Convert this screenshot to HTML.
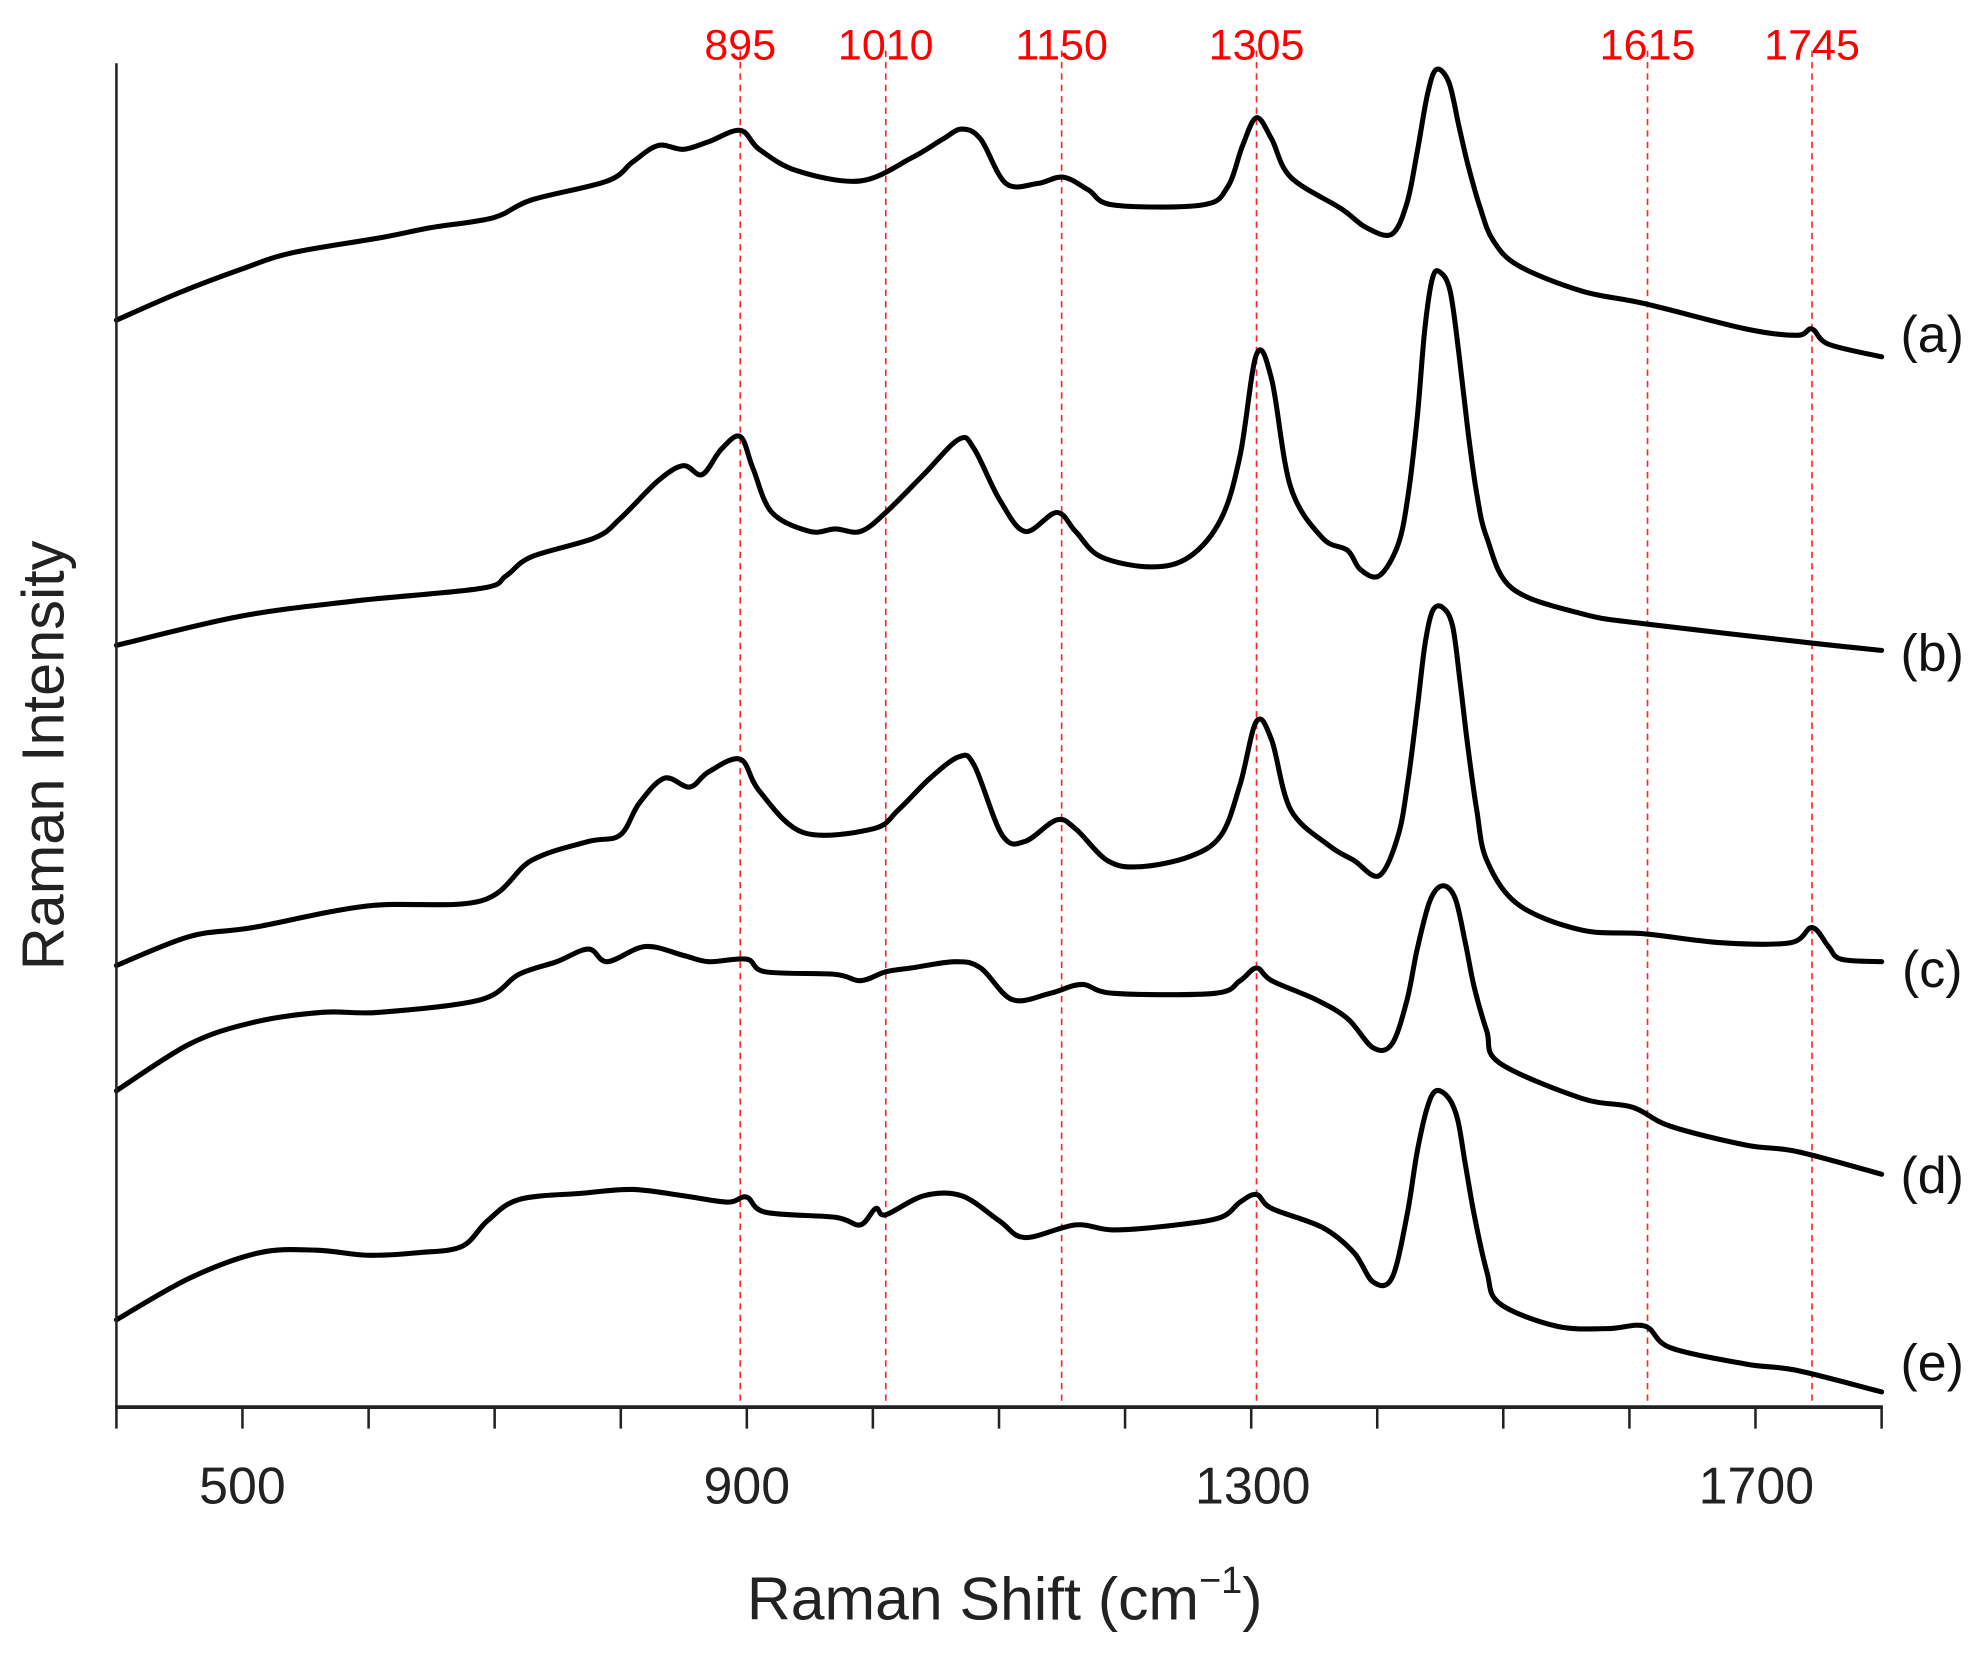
<!DOCTYPE html>
<html><head><meta charset="utf-8"><style>html,body{margin:0;padding:0;background:#fff}svg{display:block}</style></head>
<body>
<svg id="s" width="1974" height="1656" viewBox="0 0 1560 1308.7" preserveAspectRatio="none" xmlns="http://www.w3.org/2000/svg" font-family="Liberation Sans, sans-serif">
<g stroke="#f00" stroke-width="1.3" stroke-dasharray="5,4" opacity="0.85">
<line x1="585" y1="40" x2="585" y2="1112"/><line x1="700" y1="40" x2="700" y2="1112"/><line x1="839" y1="40" x2="839" y2="1112"/><line x1="993" y1="40" x2="993" y2="1112"/><line x1="1302" y1="40" x2="1302" y2="1112"/><line x1="1432" y1="40" x2="1432" y2="1112"/>
</g>
<g fill="#f00" font-size="34" text-anchor="middle">
<text x="585" y="47">895</text><text x="700" y="47">1010</text><text x="839" y="47">1150</text><text x="993" y="47">1305</text><text x="1302" y="47">1615</text><text x="1432" y="47">1745</text>
</g>
<g id="curves" fill="none" stroke="#000" stroke-width="4" stroke-linejoin="round" stroke-linecap="round">
<polyline points="92,253 140,232 190,213 230,200 300,188 340,180 390,172 420,158 480,143 500,128 520,115 540,118 560,112 585,103 600,118 630,135 680,143 720,125 745,110 760,102 775,110 795,145 820,145 840,140 860,150 880,162 950,162 970,148 982,115 993,93 1005,110 1020,140 1060,165 1080,180 1100,185 1112,160 1120,120 1128,75 1135,55 1145,65 1153,100 1160,130 1170,165 1180,190 1200,210 1250,230 1300,240 1380,260 1420,265 1432,260 1445,272 1487,282"/>
<polyline points="92,510 190,487 280,475 380,465 400,455 420,440 470,425 490,410 520,380 540,368 555,375 570,355 585,345 595,370 610,405 640,420 660,418 680,420 700,405 730,375 758,347 770,355 790,395 810,420 835,405 850,420 870,440 910,448 940,440 965,410 980,360 993,280 1005,300 1020,385 1045,425 1065,435 1075,450 1090,455 1105,430 1113,390 1120,330 1126,260 1132,220 1138,215 1146,230 1153,280 1160,340 1167,390 1175,425 1195,465 1250,485 1300,493 1430,508 1487,514"/>
<polyline points="92,763 150,740 200,733 290,716 380,712 420,680 465,665 490,660 505,635 525,615 545,622 560,610 585,600 600,625 635,658 690,655 710,640 735,615 758,598 770,605 792,660 810,665 835,648 850,655 875,680 900,685 940,677 965,660 980,620 993,570 1005,585 1020,640 1050,668 1070,680 1090,692 1105,660 1113,615 1120,560 1126,510 1132,483 1140,480 1148,495 1154,540 1160,590 1167,640 1175,680 1200,715 1250,735 1300,738 1360,745 1415,745 1432,733 1445,748 1455,758 1487,760"/>
<polyline points="92,862 150,825 200,808 255,800 300,800 380,790 410,770 440,760 465,750 480,760 510,748 540,755 560,760 590,758 605,768 660,770 680,775 700,768 720,765 755,760 775,765 800,790 830,785 855,778 880,785 960,785 980,775 993,765 1005,775 1040,790 1065,805 1085,828 1100,825 1112,790 1120,750 1130,712 1140,700 1150,710 1158,745 1165,780 1175,815 1185,840 1250,868 1290,875 1320,890 1380,905 1420,910 1487,928"/>
<polyline points="92,1043 150,1010 205,990 250,988 290,992 330,990 365,985 385,965 410,948 460,943 500,940 540,945 575,950 590,946 605,958 660,962 680,968 692,955 700,960 730,945 760,945 790,965 810,978 850,968 880,972 930,968 965,962 980,950 993,944 1005,955 1045,970 1070,990 1085,1013 1100,1010 1112,960 1120,910 1128,875 1135,862 1145,868 1152,885 1158,920 1165,960 1175,1005 1185,1030 1230,1048 1270,1050 1300,1048 1320,1065 1380,1078 1420,1083 1487,1100"/>
</g>
<g stroke="#222" stroke-width="2">
<line x1="92" y1="50" x2="92" y2="1112"/>
<line x1="91" y1="1112" x2="1488" y2="1112" stroke-width="3"/>
<line x1="92" y1="1112" x2="92" y2="1129"/><line x1="191.6" y1="1112" x2="191.6" y2="1129"/><line x1="291.3" y1="1112" x2="291.3" y2="1129"/><line x1="390.9" y1="1112" x2="390.9" y2="1129"/><line x1="490.6" y1="1112" x2="490.6" y2="1129"/><line x1="590.2" y1="1112" x2="590.2" y2="1129"/><line x1="689.8" y1="1112" x2="689.8" y2="1129"/><line x1="789.5" y1="1112" x2="789.5" y2="1129"/><line x1="889.1" y1="1112" x2="889.1" y2="1129"/><line x1="988.8" y1="1112" x2="988.8" y2="1129"/><line x1="1088.4" y1="1112" x2="1088.4" y2="1129"/><line x1="1188" y1="1112" x2="1188" y2="1129"/><line x1="1287.7" y1="1112" x2="1287.7" y2="1129"/><line x1="1387.3" y1="1112" x2="1387.3" y2="1129"/><line x1="1487" y1="1112" x2="1487" y2="1129"/>
</g>
<g fill="#222" font-size="41" text-anchor="middle">
<text x="191.6" y="1188">500</text><text x="590.2" y="1188">900</text><text x="990" y="1188">1300</text><text x="1388" y="1188">1700</text>
<text x="794" y="1280" font-size="48">Raman Shift (cm<tspan font-size="30" dy="-21">−1</tspan><tspan dy="21">)</tspan></text>
<text transform="translate(50,597) rotate(-90)" font-size="47">Raman Intensity</text>
</g>
<g fill="#111" font-size="41" text-anchor="middle">
<text x="1527" y="278">(a)</text><text x="1527" y="530">(b)</text><text x="1527" y="780">(c)</text><text x="1527" y="943">(d)</text><text x="1527" y="1091">(e)</text>
</g>
</svg>
<script>
document.querySelectorAll('#curves polyline').forEach(function(pl){
  var p=pl.getAttribute('points').trim().split(/\s+/).map(function(s){return s.split(',').map(Number);});
  var d='M'+p[0][0]+','+p[0][1];
  for(var i=0;i<p.length-1;i++){
    var p0=p[i-1]||p[i],p1=p[i],p2=p[i+1],p3=p[i+2]||p2;
    var c1x=p1[0]+(p2[0]-p0[0])/6,c1y=p1[1]+(p2[1]-p0[1])/6;
    var c2x=p2[0]-(p3[0]-p1[0])/6,c2y=p2[1]-(p3[1]-p1[1])/6;
    d+=' C'+c1x.toFixed(1)+','+c1y.toFixed(1)+' '+c2x.toFixed(1)+','+c2y.toFixed(1)+' '+p2[0]+','+p2[1];
  }
  var path=document.createElementNS('http://www.w3.org/2000/svg','path');
  path.setAttribute('d',d);
  pl.parentNode.replaceChild(path,pl);
});
</script>
</body></html>
